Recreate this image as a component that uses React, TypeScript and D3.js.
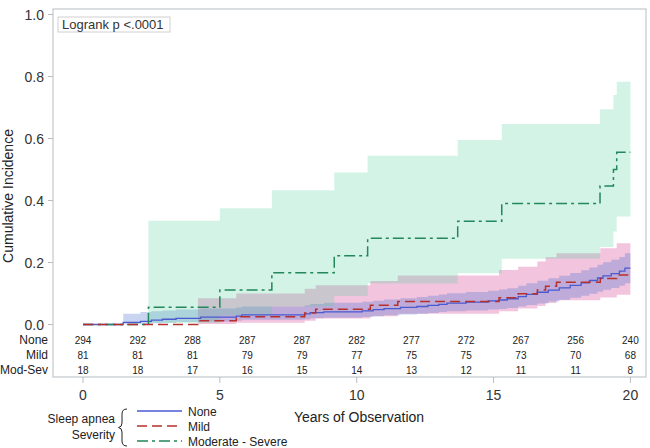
import React from "react";
import * as d3 from "d3";

// ---- Data ----
// None (n=294)
const noneTimes = [0, 1.47, 2.1, 2.5, 2.9, 3.4, 4.3, 5.6, 5.8, 8.1, 8.3, 8.8, 10.2, 10.6, 11.0, 11.6, 12.2, 12.6, 13.0, 13.3, 14.0, 14.8, 15.2, 15.5, 15.9, 16.2, 16.6, 17.0, 17.4, 17.8, 18.2, 18.5, 18.8, 19.0, 19.3, 19.6, 19.8, 20];
const noneEst = [0, 0.007, 0.010, 0.014, 0.017, 0.020, 0.024, 0.027, 0.031, 0.034, 0.038, 0.041, 0.044, 0.048, 0.051, 0.055, 0.058, 0.062, 0.065, 0.069, 0.072, 0.076, 0.079, 0.083, 0.090, 0.097, 0.104, 0.111, 0.118, 0.126, 0.134, 0.142, 0.150, 0.157, 0.164, 0.172, 0.182, 0.182];
const noneLo = [0, 0.001, 0.002, 0.004, 0.006, 0.008, 0.010, 0.012, 0.015, 0.017, 0.020, 0.022, 0.024, 0.027, 0.030, 0.032, 0.035, 0.037, 0.040, 0.043, 0.045, 0.048, 0.050, 0.053, 0.058, 0.063, 0.068, 0.074, 0.080, 0.086, 0.093, 0.099, 0.106, 0.112, 0.118, 0.125, 0.133, 0.133];
const noneHi = [0, 0.035, 0.040, 0.043, 0.045, 0.048, 0.052, 0.055, 0.058, 0.062, 0.066, 0.070, 0.073, 0.077, 0.081, 0.085, 0.089, 0.093, 0.097, 0.101, 0.105, 0.109, 0.113, 0.117, 0.125, 0.133, 0.141, 0.149, 0.157, 0.166, 0.175, 0.184, 0.193, 0.201, 0.209, 0.218, 0.230, 0.230];

// Mild (n=81)
const mildTimes = [0, 4.2, 5.6, 8.1, 8.5, 10.5, 11.5, 15.2, 15.9, 16.6, 16.9, 17.3, 18.9, 19.5, 20];
const mildEst = [0, 0.012, 0.025, 0.037, 0.049, 0.062, 0.074, 0.086, 0.099, 0.111, 0.123, 0.136, 0.148, 0.160, 0.160];
const mildLo = [0, 0.002, 0.006, 0.012, 0.019, 0.027, 0.035, 0.043, 0.052, 0.060, 0.069, 0.078, 0.087, 0.096, 0.096];
const mildHi = [0, 0.085, 0.100, 0.115, 0.127, 0.140, 0.158, 0.176, 0.186, 0.203, 0.217, 0.230, 0.246, 0.262, 0.262];

// Moderate - Severe (n=18)
const modTimes = [0, 2.39, 5.0, 6.9, 9.18, 10.4, 13.69, 15.3, 18.89, 19.38, 19.5, 20];
const modEst = [0, 0.056, 0.111, 0.167, 0.222, 0.278, 0.333, 0.390, 0.447, 0.500, 0.556, 0.556];
const modLo = [0, 0.005, 0.030, 0.058, 0.092, 0.132, 0.165, 0.212, 0.250, 0.300, 0.348, 0.348];
const modHi = [0, 0.335, 0.375, 0.433, 0.490, 0.544, 0.595, 0.647, 0.694, 0.740, 0.783, 0.783];

// Number at risk
const riskTimes = [0, 2, 4, 6, 8, 10, 12, 14, 16, 18, 20];
const riskNone = [294, 292, 288, 287, 287, 282, 277, 272, 267, 256, 240];
const riskMild = [81, 81, 81, 79, 79, 77, 75, 75, 73, 70, 68];
const riskMod = [18, 18, 17, 16, 15, 14, 13, 12, 11, 11, 8];
const riskLabels = ["None", "Mild", "Mod-Sev"];

const yTicks = [0, 0.2, 0.4, 0.6, 0.8, 1.0];
const xTicks = [0, 5, 10, 15, 20];
const legendLabels = ["None", "Mild", "Moderate - Severe"];

const FONT = "'Liberation Sans', Arial, sans-serif";
const C_NONE = "#4a5ad0";
const C_MILD = "#b8302c";
const C_MOD = "#22875a";

export default function App() {
  const x = d3.scaleLinear().domain([0, 20]).range([83, 630.4]);
  const y = d3.scaleLinear().domain([0, 1]).range([324.5, 14.5]);

  type P = { t: number; e: number; lo: number; hi: number };
  const mk = (ts: number[], es: number[], los: number[], his: number[]): P[] =>
    ts.map((t, i) => ({ t, e: es[i], lo: los[i], hi: his[i] }));
  const none = mk(noneTimes, noneEst, noneLo, noneHi);
  const mild = mk(mildTimes, mildEst, mildLo, mildHi);
  const mod = mk(modTimes, modEst, modLo, modHi);

  const line = d3
    .line<P>()
    .x((d) => x(d.t))
    .y((d) => y(d.e))
    .curve(d3.curveStepAfter);
  const area = d3
    .area<P>()
    .x((d) => x(d.t))
    .y0((d) => y(d.lo))
    .y1((d) => y(d.hi))
    .curve(d3.curveStepAfter);

  const frame = { l: 53, r: 646, t: 9, b: 377 };
  const riskRows = [riskNone, riskMild, riskMod];
  const rowY = [344, 359, 374];

  return (
    <svg
      width={650}
      height={448}
      style={{ position: "absolute", left: 0, top: 0, background: "#fff" }}
      fontFamily={FONT}
    >
      <rect x={0} y={0} width={650} height={448} fill="#fff" />
      {/* bands */}
      <path d={area(mild) || ""} fill="#d43a91" fillOpacity={0.3} />
      <path d={area(none) || ""} fill="#4870cd" fillOpacity={0.3} />
      <path d={area(mod) || ""} fill="#4fcf9b" fillOpacity={0.25} />

      {/* frame */}
      <rect
        x={frame.l}
        y={frame.t}
        width={frame.r - frame.l}
        height={frame.b - frame.t}
        fill="none"
        stroke="#c4c8cc"
        strokeWidth={1.2}
      />

      {/* lines */}
      <path d={line(none) || ""} fill="none" stroke={C_NONE} strokeWidth={1.3} />
      <path d={line(mod) || ""} fill="none" stroke={C_MOD} strokeWidth={1.5} strokeDasharray="11,4,3,4" />
      <path d={line(mild) || ""} fill="none" stroke={C_MILD} strokeWidth={1.5} strokeDasharray="10,5" />

      {/* y axis */}
      {yTicks.map((v) => (
        <g key={v}>
          <line x1={48} x2={frame.l} y1={y(v)} y2={y(v)} stroke="#b8bcc0" />
          <text x={44} y={y(v) + 5} textAnchor="end" fontSize={14} fill="#333">
            {v.toFixed(1)}
          </text>
        </g>
      ))}
      <text
        transform={`translate(13,196) rotate(-90)`}
        textAnchor="middle"
        fontSize={14}
        fill="#222"
      >
        Cumulative Incidence
      </text>

      {/* logrank box */}
      <rect x={58} y={17} width={112} height={15} fill="#fff" stroke="#d0d0d0" />
      <text x={62} y={29} fontSize={13} fill="#333">
        Logrank p &lt;.0001
      </text>

      {/* at-risk table */}
      {riskRows.map((row, ri) => (
        <g key={ri}>
          <text x={48} y={rowY[ri]} textAnchor="end" fontSize={12} fill="#222">
            {riskLabels[ri]}
          </text>
          {row.map((n, i) => (
            <text key={i} x={x(riskTimes[i])} y={rowY[ri] - 0.5} textAnchor="middle" fontSize={10} fill="#222">
              {n}
            </text>
          ))}
        </g>
      ))}

      {/* x axis */}
      {xTicks.map((t) => (
        <g key={t}>
          <line x1={x(t)} x2={x(t)} y1={frame.b} y2={frame.b + 6} stroke="#b8bcc0" />
          <text x={x(t)} y={400} textAnchor="middle" fontSize={14} fill="#333">
            {t}
          </text>
        </g>
      ))}
      <text x={359} y={421.5} textAnchor="middle" fontSize={14} fill="#222">
        Years of Observation
      </text>

      {/* legend */}
      <text x={115} y={423} textAnchor="end" fontSize={12} fill="#222">
        Sleep apnea
      </text>
      <text x={115} y={439} textAnchor="end" fontSize={12} fill="#222">
        Severity
      </text>
      <path
        d="M127,409 Q122,409 122,414 L122,423 Q122,427 118.5,427.5 Q122,428 122,432 L122,441 Q122,446 127,446"
        fill="none"
        stroke="#222"
        strokeWidth={1}
      />
      {[C_NONE, C_MILD, C_MOD].map((c, i) => (
        <g key={i}>
          <line
            x1={137}
            x2={182}
            y1={411 + i * 15}
            y2={411 + i * 15}
            stroke={c}
            strokeWidth={1.4}
            strokeDasharray={i === 0 ? undefined : i === 1 ? "10,5" : "11,4,3,4"}
          />
          <text x={188} y={415.5 + i * 15} fontSize={12} fill="#222">
            {legendLabels[i]}
          </text>
        </g>
      ))}
    </svg>
  );
}
